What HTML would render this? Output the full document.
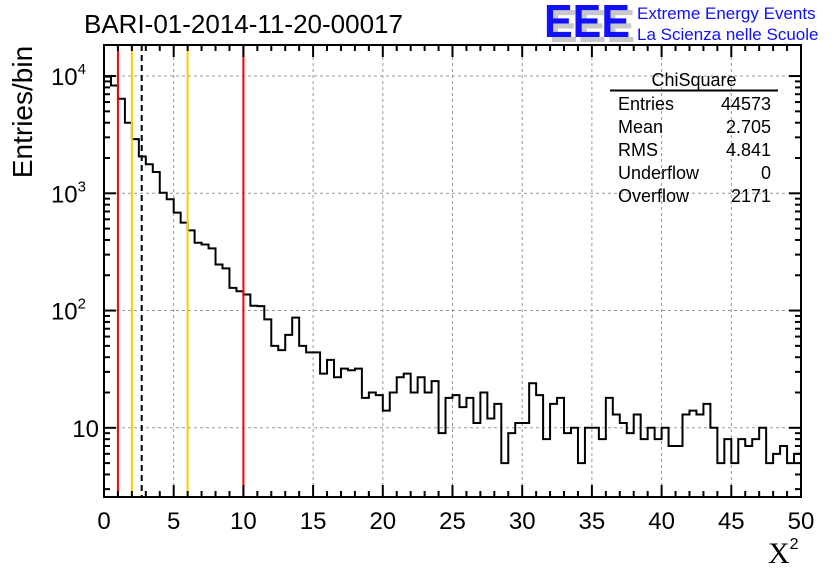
<!DOCTYPE html>
<html><head><meta charset="utf-8"><style>
html,body{margin:0;padding:0;background:#fff;}
svg{display:block;font-family:"Liberation Sans",sans-serif;}
</style></head><body>
<svg id="chart" width="836" height="572" viewBox="0 0 836 572" xmlns="http://www.w3.org/2000/svg">
<rect width="836" height="572" fill="#fff"/>
<text x="84" y="33" font-size="26">BARI-01-2014-11-20-00017</text>
<g>
<text x="549" y="42" font-size="46" font-weight="bold" fill="#c8c8c8" textLength="86" lengthAdjust="spacingAndGlyphs">EEE</text>
<text x="544" y="37" font-size="46" font-weight="bold" fill="#1010ff" textLength="86" lengthAdjust="spacingAndGlyphs">EEE</text>
<text x="637" y="19" font-size="17" fill="#1010ff">Extreme Energy Events</text>
<text x="637" y="40" font-size="17" fill="#1010ff">La Scienza nelle Scuole</text>
</g>
<text transform="translate(32,112) rotate(-90)" text-anchor="middle" font-size="28">Entries/bin</text>
<text x="768" y="563" font-family="Liberation Serif,serif" font-size="30">X<tspan font-family="Liberation Sans,sans-serif" font-size="16" dy="-14">2</tspan></text>
<g id="grid"></g>
<g id="hist"></g>
<g id="vlines"></g>
<g id="axes"></g>
<g font-size="18">
<text x="694" y="86" text-anchor="middle">ChiSquare</text>
<line x1="610" y1="90.5" x2="778" y2="90.5" stroke="#000" stroke-width="2"/>
<text x="618" y="110">Entries</text><text x="771" y="110" text-anchor="end">44573</text>
<text x="618" y="133">Mean</text><text x="771" y="133" text-anchor="end">2.705</text>
<text x="618" y="156">RMS</text><text x="771" y="156" text-anchor="end">4.841</text>
<text x="618" y="179">Underflow</text><text x="771" y="179" text-anchor="end">0</text>
<text x="618" y="202">Overflow</text><text x="771" y="202" text-anchor="end">2171</text>
</g>
</svg>
<script>
const binCounts=[9900,8300,6400,4000,2900,2060,1770,1520,1010,890,684,562,483,379,366,339,247,229,156,146,137,110,109,84,50,46,62,87,50,44,44,29,38,27,32,31,32,18,20,19,14,20,27,29,20,27,20,25,9,18,19,15,18,11,20,12,16,5,9,11,11,24,19,8,16,18,9,10,5,10,10,8,18,13,11,9,13,8,10,8,10,7,7,13,14,13,16,10,5,8,5,8,7,8,10,5,6,7,5,6];
const xRange=[0,50];
const yRange=[2.57,18400];
const xTickLabels=[0,5,10,15,20,25,30,35,40,45,50];
const yDecades=[10,100,1000,10000];
const redLines=[1,10];
const yellowLines=[2,6];
const meanLine=[2.705];

const L=104,R=801,T=45,B=497;
const NS="http://www.w3.org/2000/svg";
function X(v){return L+(v-xRange[0])/(xRange[1]-xRange[0])*(R-L);}
function Y(v){const a=Math.log10(yRange[0]),b=Math.log10(yRange[1]);return B-(Math.log10(v)-a)/(b-a)*(B-T);}
function mk(tag,attrs,parent){const e=document.createElementNS(NS,tag);for(const k in attrs)e.setAttribute(k,attrs[k]);parent.appendChild(e);return e;}
const grid=document.getElementById('grid'),hist=document.getElementById('hist'),vl=document.getElementById('vlines'),ax=document.getElementById('axes');
xTickLabels.forEach(v=>{if(v===xRange[0]||v===xRange[1])return;const g=mk('line',{x1:X(v),x2:X(v),y1:T,y2:B,stroke:'#999','stroke-dasharray':'3,3','stroke-width':1},grid);

});
yDecades.forEach(v=>{const g=mk('line',{x1:L,x2:R,y1:Y(v),y2:Y(v),stroke:'#999','stroke-dasharray':'3,3','stroke-width':1},grid);

});
const n=binCounts.length,bw=(xRange[1]-xRange[0])/n;
let d='';
binCounts.forEach((c,i)=>{const x0=X(xRange[0]+i*bw),x1=X(xRange[0]+(i+1)*bw),y=Math.max(T,Math.min(B,Y(c)));d+=(i===0?'M':'L')+x0+','+y+'L'+x1+','+y;});
const hp=mk('path',{d:d,fill:'none',stroke:'#000','stroke-width':2},hist);


redLines.forEach(v=>{const e=mk('line',{x1:X(v),x2:X(v),y1:T,y2:B,stroke:'#ff0000','stroke-width':2},vl);

});
yellowLines.forEach(v=>{const e=mk('line',{x1:X(v),x2:X(v),y1:T,y2:B,stroke:'#ffcc00','stroke-width':2},vl);

});
meanLine.forEach(v=>{const e=mk('line',{x1:X(v),x2:X(v),y1:T,y2:B,stroke:'#000','stroke-width':2,'stroke-dasharray':'6,4'},vl);

});
const fr=mk('rect',{x:L,y:T,width:R-L,height:B-T,fill:'none',stroke:'#000','stroke-width':2},ax);


for(let v=xRange[0];v<=xRange[1]+1e-9;v+=1){const major=v%5===0,len=major?12:6;
mk('line',{x1:X(v),x2:X(v),y1:B,y2:B-len,stroke:'#000','stroke-width':2},ax);
mk('line',{x1:X(v),x2:X(v),y1:T,y2:T+len,stroke:'#000','stroke-width':2},ax);}
xTickLabels.forEach(v=>{const t=mk('text',{x:X(v),y:529,'text-anchor':'middle','font-size':24},ax);t.textContent=v;

});
for(let dec=1;dec<=10000;dec*=10){for(let m=1;m<10;m++){const v=dec*m;if(v<yRange[0]||v>yRange[1])continue;const len=m===1?12:6;
mk('line',{x1:L,x2:L+len,y1:Y(v),y2:Y(v),stroke:'#000','stroke-width':2},ax);
mk('line',{x1:R,x2:R-len,y1:Y(v),y2:Y(v),stroke:'#000','stroke-width':2},ax);}}
yDecades.forEach(v=>{const t=mk('text',{x:99,y:Y(v)+9,'text-anchor':'end','font-size':24},ax);


if(v===10){t.textContent='10';}else{t.setAttribute('x',86);t.textContent='10';const s=mk('tspan',{'font-size':15,dy:-11},t);s.textContent=String(Math.round(Math.log10(v)));}});
</script>
</body></html>
